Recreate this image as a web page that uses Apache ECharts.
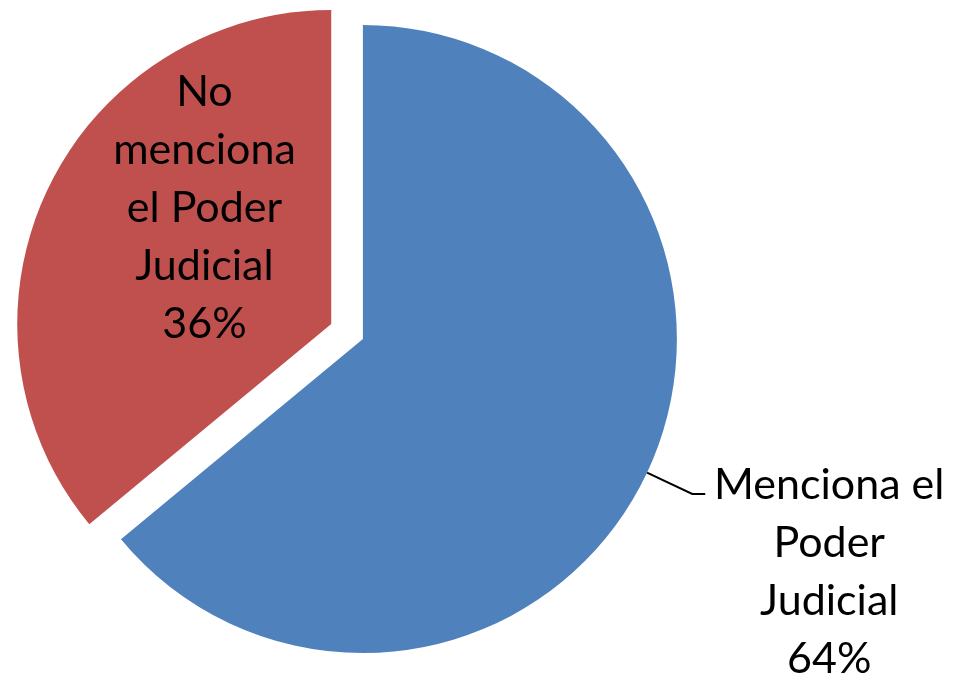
<!DOCTYPE html>
<html>
<head>
<meta charset="utf-8">
<script src="https://cdn.jsdelivr.net/npm/echarts@6/dist/echarts.min.js"></script>
<style>
html,body{margin:0;padding:0;background:#fff;}
#chart{width:955px;height:674px;}
</style>
</head>
<body>
<div id="chart"></div>
<script>
const categories = ['Menciona el Poder Judicial', 'No menciona el Poder Judicial'];
const values = [64, 36];
const labelLines = [['Menciona el', 'Poder', 'Judicial'], ['No', 'menciona', 'el Poder', 'Judicial']];
const colors = ['#4F81BD', '#C0504D'];

const chart = echarts.init(document.getElementById('chart'), null, {renderer: 'canvas'});
const FONT = 'Lato, "Liberation Sans", sans-serif';

const data = categories.map((name, i) => {
  const item = {name: name, value: values[i], itemStyle: {color: colors[i]}};
  if (i === 0) {
    item.label = {
      show: true,
      position: 'outside',
      formatter: (p) => labelLines[0].map(s => '{a|' + s + '}').join('\n') + '\n{a|' + Math.round(p.percent) + '%}',
      padding: [156, 0, 0, 0],
      distanceToLabelLine: 8,
      rich: {a: {width: 232, align: 'center', fontSize: 43, lineHeight: 58, fontFamily: FONT, color: '#000'}}
    };
    item.labelLine = {show: true, length: 50, length2: 13, lineStyle: {color: '#000', width: 2}};
  } else {
    item.selected = true;
    item.label = {
      show: true,
      position: 'inside',
      formatter: (p) => labelLines[1].join('\n') + '\n' + Math.round(p.percent) + '%',
      fontSize: 43, lineHeight: 58, fontFamily: FONT, color: '#000'
    };
    item.labelLine = {show: false};
  }
  return item;
});

chart.setOption({
  animation: false,
  series: [{
    type: 'pie',
    center: ['38.0%', '50.3%'],
    radius: [0, 314],
    startAngle: 90,
    clockwise: true,
    selectedMode: 'single',
    selectedOffset: 35,
    avoidLabelOverlap: false,
    emphasis: {disabled: true},
    select: {itemStyle: {}},
    labelLayout: (p) => p.dataIndex === 1 ? {dx: 18, dy: -48} : {},
    data: data
  }]
});
</script>
</body>
</html>
